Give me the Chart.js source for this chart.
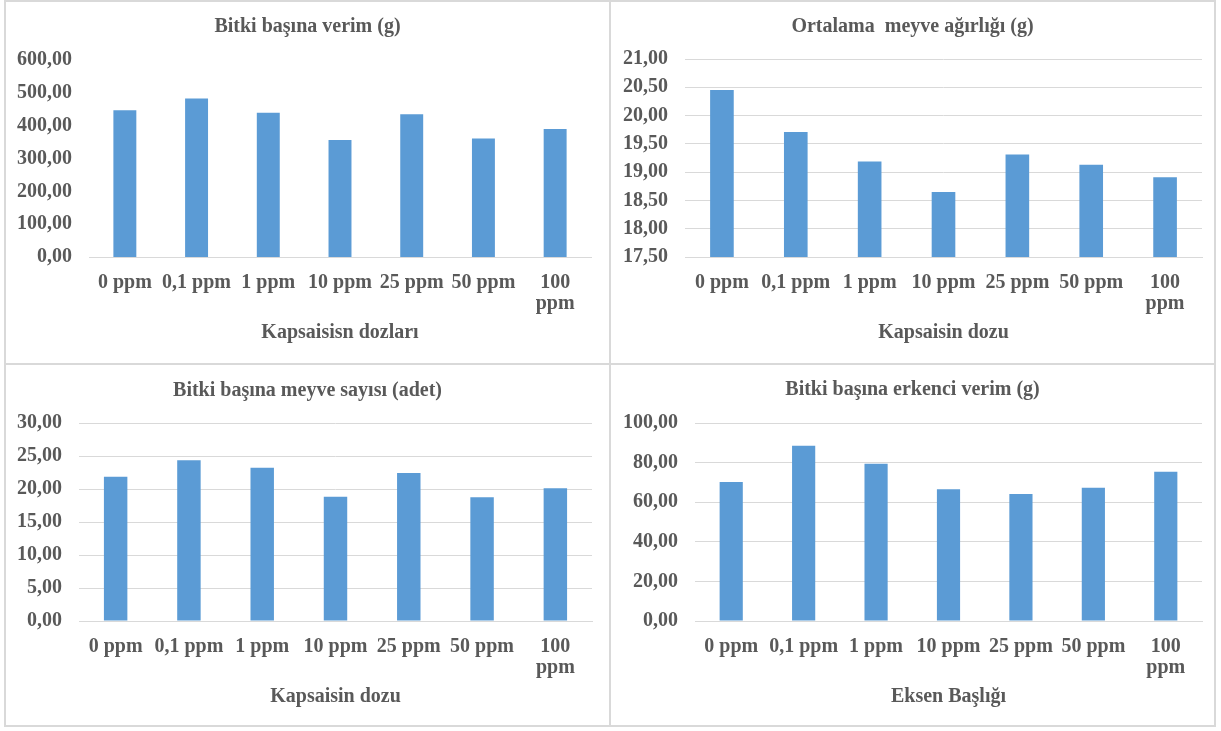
<!DOCTYPE html>
<html>
<head>
<meta charset="utf-8">
<script src="https://cdn.jsdelivr.net/npm/chart.js@4/dist/chart.umd.min.js"></script>
<style>
  body { margin: 0; background: #fff; }
  .grid {
    position: absolute;
    left: 4px;
    top: 0;
    display: grid;
    grid-template-columns: 603px 603px;
    grid-template-rows: 361px 360px;
    gap: 2px;
    padding: 2px;
    background: #d9d9d9;
  }
  .panel { background: #fff; }
  canvas { display: block; }
</style>
</head>
<body>
<div class="grid">
  <div class="panel"><canvas id="chart1" width="603" height="361"></canvas></div>
  <div class="panel"><canvas id="chart2" width="603" height="361"></canvas></div>
  <div class="panel"><canvas id="chart3" width="603" height="360"></canvas></div>
  <div class="panel"><canvas id="chart4" width="603" height="360"></canvas></div>
</div>
<script>
const categories = ["0 ppm", "0,1 ppm", "1 ppm", "10 ppm", "25 ppm", "50 ppm", "100 ppm"];
const xTickLabels = ["0 ppm", "0,1 ppm", "1 ppm", "10 ppm", "25 ppm", "50 ppm", ["100", "ppm"]];

const verimValues = [447, 483, 439, 356, 435, 361, 390];
const agirlikValues = [20.45, 19.71, 19.19, 18.65, 19.31, 19.13, 18.91];
const sayiValues = [21.87, 24.34, 23.23, 18.84, 22.42, 18.74, 20.1];
const erkenciValues = [70.2, 88.55, 79.46, 66.5, 64.14, 67.34, 75.42];

const chartTitles = [
  "Bitki başına verim (g)",
  "Ortalama  meyve ağırlığı (g)",
  "Bitki başına meyve sayısı (adet)",
  "Bitki başına erkenci verim (g)",
];
const axisTitles = ["Kapsaisisn dozları", "Kapsaisin dozu", "Kapsaisin dozu", "Eksen Başlığı"];

const yMins = [0, 17.5, 0, 0];
const yMaxs = [600, 21, 30, 100];
const ySteps = [100, 0.5, 5, 20];

const BAR_COLOR = "#5b9bd5";
const TEXT_COLOR = "#595959";
const GRID_COLOR = "#d9d9d9";

Chart.defaults.font.family = "'Liberation Serif', 'Times New Roman', serif";
Chart.defaults.font.weight = "bold";
Chart.defaults.font.size = 20;
Chart.defaults.color = TEXT_COLOR;

const formatTick = (value) => Number(value).toFixed(2).replace(".", ",");

// layout per panel: y axis width, right gap, title padding, axis title bottom padding
const layouts = [
  { yWidth: 83, right: 18, titleTop: 13, titleBottom: 21, axisBottom: 18, grid: false },
  { yWidth: 74, right: 12, titleTop: 13, titleBottom: 20, axisBottom: 18, grid: true },
  { yWidth: 73, right: 17, titleTop: 14, titleBottom: 20, axisBottom: 16, grid: true },
  { yWidth: 84, right: 12, titleTop: 13, titleBottom: 21, axisBottom: 16, grid: true },
];

const seriesValues = [verimValues, agirlikValues, sayiValues, erkenciValues];

function makeChart(id, idx) {
  const lay = layouts[idx];
  const ctx = document.getElementById(id).getContext("2d");
  return new Chart(ctx, {
    type: "bar",
    data: {
      labels: categories,
      datasets: [
        {
          data: seriesValues[idx],
          backgroundColor: BAR_COLOR,
          categoryPercentage: 1,
          barPercentage: 0.32,
        },
      ],
    },
    options: {
      responsive: false,
      animation: false,
      layout: { padding: 0 },
      plugins: {
        legend: { display: false },
        tooltip: { enabled: false },
        title: {
          display: true,
          text: chartTitles[idx],
          color: TEXT_COLOR,
          font: { size: 20, weight: "bold", lineHeight: 1.2 },
          padding: { top: lay.titleTop, bottom: lay.titleBottom },
        },
      },
      scales: {
        x: {
          grid: { display: false, drawTicks: true, tickLength: 13.5 },
          border: { display: true, color: GRID_COLOR, width: 1 },
          ticks: {
            autoSkip: false,
            maxRotation: 0,
            padding: 2,
            font: { size: 20, lineHeight: 1.05 },
            callback: (v, i) => xTickLabels[i],
          },
          title: {
            display: true,
            text: axisTitles[idx],
            color: TEXT_COLOR,
            font: { size: 20, weight: "bold", lineHeight: 1.2 },
            padding: { top: 4.5, bottom: lay.axisBottom },
          },
        },
        y: {
          min: yMins[idx],
          max: yMaxs[idx],
          grid: { display: lay.grid, color: GRID_COLOR, lineWidth: 1, drawTicks: false },
          border: { display: false },
          ticks: {
            stepSize: ySteps[idx],
            padding: 17,
            callback: formatTick,
          },
          afterFit: (scale) => {
            scale.width = lay.yWidth;
          },
        },
        yr: {
          position: "right",
          display: true,
          grid: { display: false, drawTicks: false },
          border: { display: false },
          ticks: { display: false },
          afterFit: (scale) => {
            scale.width = lay.right;
          },
        },
      },
    },
  });
}

makeChart("chart1", 0);
makeChart("chart2", 1);
makeChart("chart3", 2);
makeChart("chart4", 3);
</script>
</body>
</html>
